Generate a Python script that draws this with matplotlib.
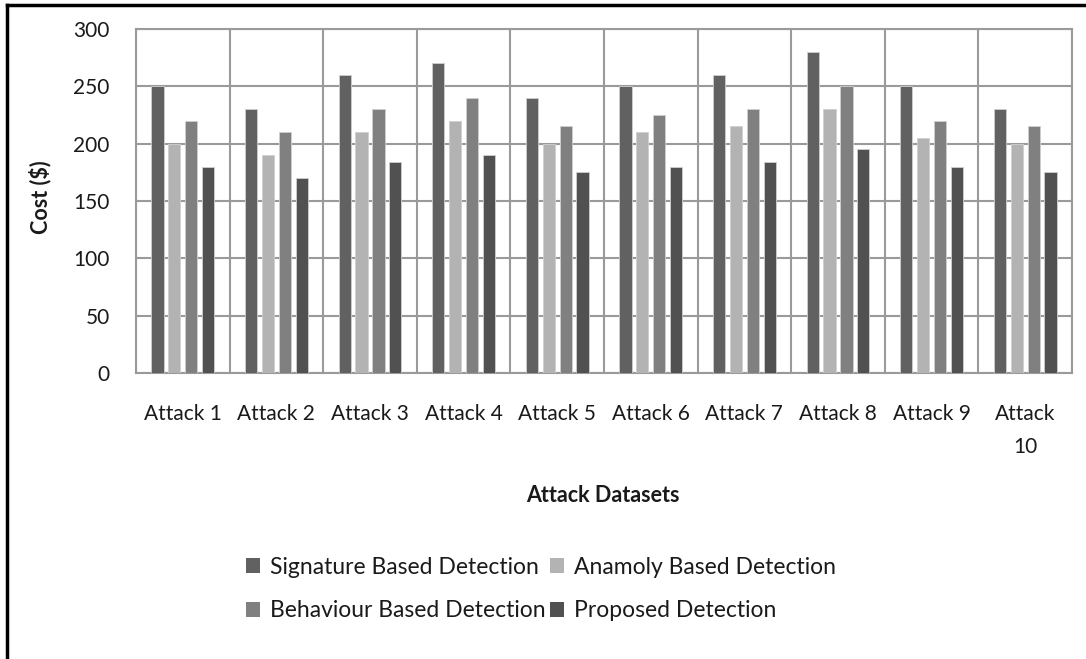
import matplotlib
matplotlib.use("Agg")
import matplotlib.pyplot as plt
import numpy as np
from matplotlib.lines import Line2D
from matplotlib.patches import Patch

categories = ["Attack 1", "Attack 2", "Attack 3", "Attack 4", "Attack 5",
              "Attack 6", "Attack 7", "Attack 8", "Attack 9", "Attack\n10"]
signature = [250, 230, 260, 270, 240, 250, 260, 280, 250, 230]
anamoly = [200, 190, 210, 220, 200, 210, 215, 230, 205, 200]
behaviour = [220, 210, 230, 240, 215, 225, 230, 250, 220, 215]
proposed = [180, 170, 184, 190, 175, 180, 184, 195, 180, 175]
series_names = ["Signature Based Detection", "Anamoly Based Detection",
                "Behaviour Based Detection", "Proposed Detection"]
yticks = [0, 50, 100, 150, 200, 250, 300]

colors = ["#616161", "#b3b3b3", "#808080", "#515151"]
plt.rcParams['font.family'] = ['Lato', 'DejaVu Sans']

W, H = 1086, 659
fig = plt.figure(figsize=(W/100, H/100), dpi=100)
ax = fig.add_axes([136/W, 1-373/H, (1072-136)/W, (373-29)/H])

x = np.arange(len(categories))
step = 0.18
width = 0.13
data = [signature, anamoly, behaviour, proposed]
for k, (vals, c) in enumerate(zip(data, colors)):
    ax.bar(x + (k-1.5)*step, vals, width=width, color=c, edgecolor="#cfcfcf",
           linewidth=0.6, zorder=3)

ax.set_xlim(-0.5, len(categories)-0.5)
ax.set_ylim(0, 300)
ax.set_yticks(yticks)
ax.set_xticks(x)
ax.set_xticklabels(categories, fontsize=15, color="#1a1a1a", linespacing=1.85)
ax.tick_params(axis='x', length=0, pad=22)
ax.tick_params(axis='y', length=0, pad=19, labelsize=15, labelcolor="#1a1a1a")

gc = "#9a9a9a"
for yv in yticks:
    ax.axhline(yv, color=gc, lw=1.5, zorder=1)
for xb in np.arange(-0.5, len(categories), 1.0):
    ax.axvline(xb, color=gc, lw=1.5, zorder=1)
for s in ax.spines.values():
    s.set_color(gc)
    s.set_linewidth(1.5)

fig.text(40/W, 1-197/H, "Cost ($)", rotation=90, ha='center', va='center',
         fontsize=15.5, fontweight='bold', color="#1a1a1a")
fig.text(603/W, 1-495/H, "Attack Datasets", ha='center', va='center',
         fontsize=15.5, fontweight='bold', color="#1a1a1a")

# legend laid out row by row, as in the reference
order = [0, 2, 1, 3]
handles = [Patch(facecolor=colors[i], edgecolor='none') for i in order]
labels = [series_names[i] for i in order]
leg = fig.legend(handles, labels, loc='center', ncol=2,
                 bbox_to_anchor=(541/W, 1-589/H), frameon=False,
                 fontsize=16.5, handlelength=0.6, handleheight=0.6,
                 handletextpad=0.45, columnspacing=0.2, labelspacing=1.0)
for t in leg.get_texts():
    t.set_color("#1a1a1a")

fig.add_artist(Line2D([7/W, 7/W], [0, 1-5/H], color='black', lw=2.5, transform=fig.transFigure))
fig.add_artist(Line2D([7/W, 1], [1-5/H, 1-5/H], color='black', lw=2.5, transform=fig.transFigure))

fig.savefig("out.png", dpi=100)
